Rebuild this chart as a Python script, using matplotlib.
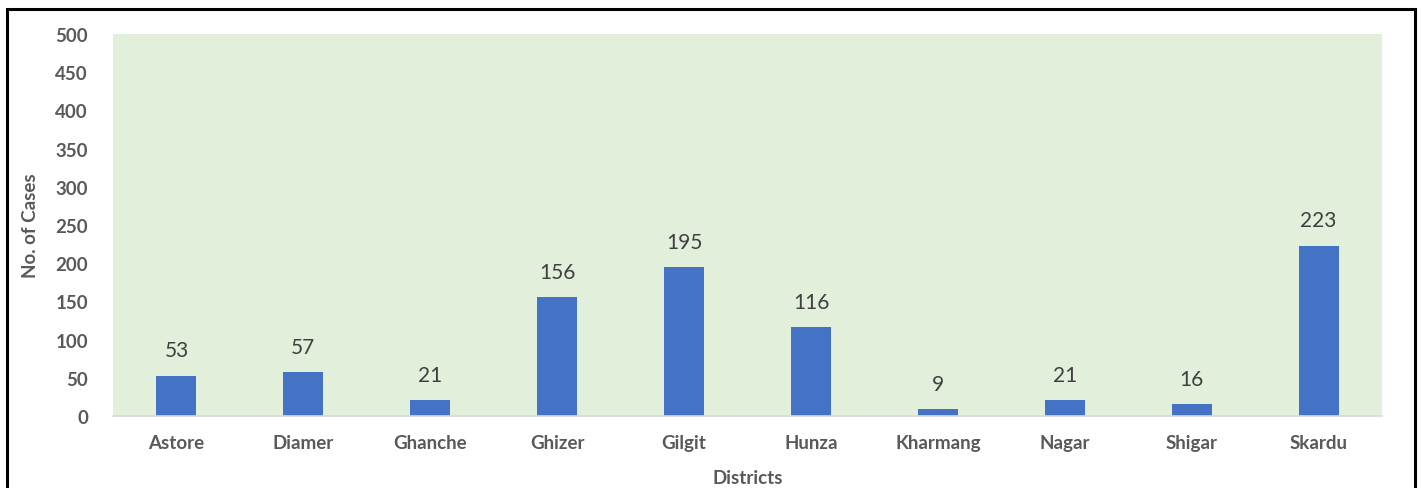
import matplotlib.pyplot as plt
from matplotlib.patches import Rectangle

# Data
districts = ["Astore", "Diamer", "Ghanche", "Ghizer", "Gilgit", "Hunza",
             "Kharmang", "Nagar", "Shigar", "Skardu"]
cases = [53, 57, 21, 156, 195, 116, 9, 21, 16, 223]
y_ticks = [0, 50, 100, 150, 200, 250, 300, 350, 400, 450, 500]

BAR_COLOR = "#4472C4"
PLOT_BG = "#E2EFDA"
TICK_COLOR = "#595959"
LABEL_COLOR = "#404040"

plt.rcParams["font.family"] = ["Lato", "DejaVu Sans"]

fig = plt.figure(figsize=(14.21, 4.89), dpi=100)
ax = fig.add_axes([0.0795, 0.1472, 0.8931, 0.7812])
ax.set_facecolor(PLOT_BG)

x = range(len(districts))
bars = ax.bar(x, cases, width=0.315, color=BAR_COLOR, zorder=2)

for rect, val in zip(bars, cases):
    ax.annotate(str(val), (rect.get_x() + rect.get_width() / 2, val),
                xytext=(0, 11), textcoords="offset points",
                ha="center", va="bottom", fontsize=15, color=LABEL_COLOR)

ax.set_xlim(-0.5, len(districts) - 0.5)
ax.set_ylim(0, 500)
ax.set_yticks(y_ticks)
ax.set_xticks(list(x))
ax.set_xticklabels(districts)

for lbl in ax.get_xticklabels() + ax.get_yticklabels():
    lbl.set_fontweight("bold")
    lbl.set_color(TICK_COLOR)
    lbl.set_fontsize(13.5)

ax.tick_params(axis="both", length=0)
ax.tick_params(axis="x", pad=13)
ax.tick_params(axis="y", pad=18)

for side in ["top", "right", "left"]:
    ax.spines[side].set_visible(False)
ax.spines["bottom"].set_color("#D9D9D9")
ax.spines["bottom"].set_linewidth(1.2)

ax.set_xlabel("Districts", fontsize=13.5, fontweight="bold", color=TICK_COLOR, labelpad=13)
ax.set_ylabel("No. of Cases", fontsize=13.5, fontweight="bold", color=TICK_COLOR, labelpad=12)

# Outer chart frame (bottom edge falls outside the image)
fig.patches.append(Rectangle((0.0049, -0.05), 0.9909, 1.0296, transform=fig.transFigure,
                             fill=False, edgecolor="#000000", linewidth=2.2))

fig.savefig("out.png", dpi=100)
